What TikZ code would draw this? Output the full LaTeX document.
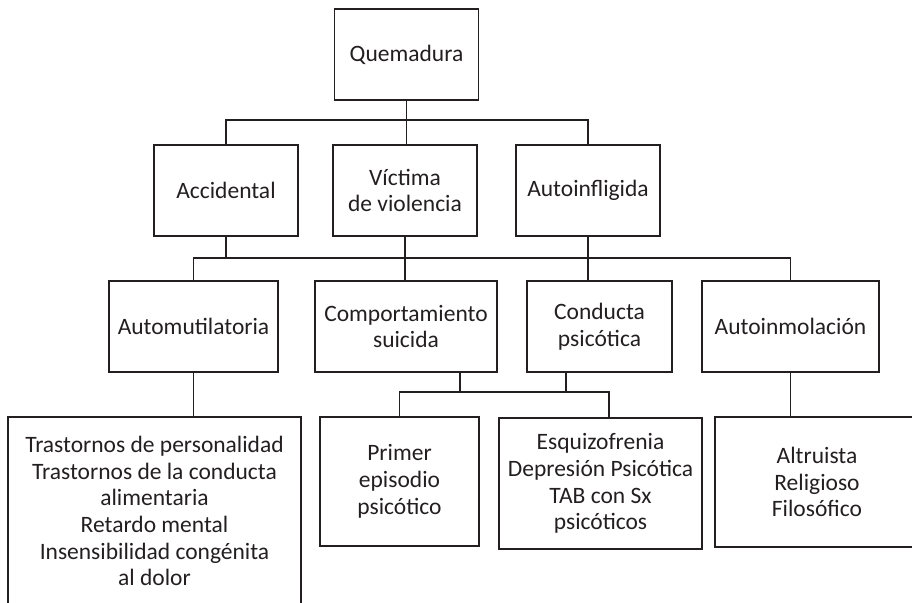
\documentclass[tikz,border=0pt]{standalone}
\usepackage{fontspec}
\setmainfont{Carlito}
\definecolor{ink}{RGB}{35,31,32}

\begin{document}
\begin{tikzpicture}[x=1pt,y=-1pt,
		box/.style={rectangle, draw=ink, line width=1.2pt, inner sep=0pt, align=center, text=ink, font=\fontsize{23.5}{26.7}\selectfont},
		link/.style={draw=ink, line width=1.2pt}]
		\useasboundingbox (0,0) rectangle (912,602);
		% burn and its causes
		\node[box, minimum width=144pt, minimum height=91pt] (Q) at (406.5,54.5) {Quemadura};
		\node[box, minimum width=144pt, minimum height=91pt] (A) at (226,190.5) {Accidental};
		\node[box, minimum width=144pt, minimum height=91pt] (V) at (405,190.5) {Víctima\\de violencia};
		\node[box, minimum width=144pt, minimum height=91pt] (Ai) at (588,190.5) {Autoinfligida};
		% self-inflicted
		\node[box, minimum width=169pt, minimum height=91pt] (Am) at (193.5,326.5) {Automutilatoria};
		\node[box, minimum width=182pt, minimum height=91pt] (C) at (406,326.5) {Comportamiento\\suicida};
		\node[box, minimum width=145pt, minimum height=91pt] (Cp) at (599.5,326.5) {Conducta\\psicótica};
		\node[box, minimum width=177pt, minimum height=91pt] (Ao) at (790.5,326.5) {Autoinmolación};
		% underlying conditions
		\node[box, minimum width=293pt, minimum height=188pt] (T) at (154.5,511) {Trastornos de personalidad\\Trastornos de la conducta\\alimentaria\\Retardo mental\\Insensibilidad congénita\\al dolor};
		\node[box, minimum width=159pt, minimum height=129pt] (P) at (399.5,481.5) {Primer\\episodio\\psicótico};
		\node[box, minimum width=203pt, minimum height=131pt] (E) at (600.5,483.5) {Esquizofrenia\\Depresión Psicótica\\TAB con Sx\\psicóticos};
		\node[box, minimum width=204pt, minimum height=130pt] (R) at (817,482) {Altruista\\Religioso\\Filosófico};

		\coordinate (j1) at (0,120);
		\coordinate (j2) at (0,258);
		\coordinate (j3) at (0,392);

		\draw[link] (Q.south) -- (Q.south |- V.north);
		\draw[link] (A.north) -- (A.north |- j1) -- (Ai.north |- j1) -- (Ai.north);

		\draw[link] (A.south) -- (A.south |- j2);
		\draw[link] (Am.north) -- (Am.north |- j2) -- (Ao.north |- j2) -- (Ao.north);
		\draw[link] (V.south) -- (V.south |- C.north);
		\draw[link] (Ai.south) -- (Ai.south |- Cp.north);

		\draw[link] (Am.south) -- (Am.south |- T.north);
		\draw[link] ([xshift=54pt]C.south) -- ([xshift=54pt]C.south |- j3);
		\draw[link] ([xshift=-33.5pt]Cp.south) -- ([xshift=-33.5pt]Cp.south |- j3);
		\draw[link] (P.north) -- (P.north |- j3) -- ([xshift=8.5pt]E.north |- j3) -- ([xshift=8.5pt]E.north);
		\draw[link] (Ao.south) -- (Ao.south |- R.north);
\end{tikzpicture}
\end{document}
